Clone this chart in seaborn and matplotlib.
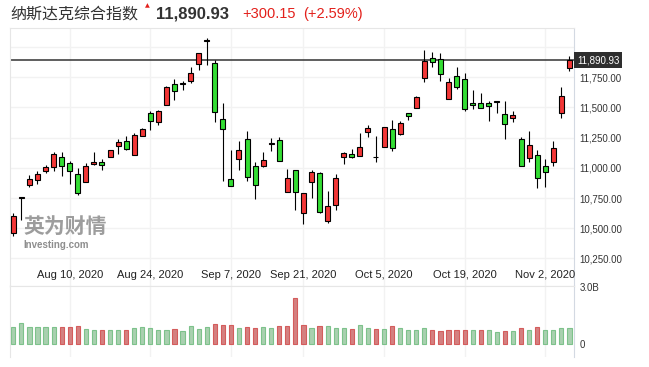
import matplotlib
matplotlib.use("Agg")
import matplotlib.pyplot as plt
import matplotlib.transforms as mtransforms
import seaborn as sns
import numpy as np
import pandas as pd

# daily candles, Jul 30 - Nov 5 2020 (Labor Day skipped)
dates = pd.bdate_range("2020-07-30", "2020-11-05")
dates = dates[dates != pd.Timestamp("2020-09-07")]

open_ = np.array([
    10462, 10749, 10862, 10903, 10977, 11004, 11086, 11043, 10952, 10886,
    11032, 11051, 11092, 11180, 11224, 11108, 11265, 11454, 11380, 11517,
    11695, 11698, 11722, 11859, 12054, 11865, 11404, 10911, 11075, 11240,
    11018, 11018, 11196, 11232, 10804, 10985, 10623, 10886, 10960, 10557,
    10689, 11092, 11117, 11100, 11298, 11092, 11174, 11322, 11281, 11454,
    11495, 11742, 11906, 11898, 11569, 11764, 11739, 11536, 11536, 11536,
    11547, 11446, 11415, 11243, 11078, 11108, 11018, 11051, 11454, 11827])
high = np.array([
    10626, 10755, 10938, 10971, 11021, 11133, 11133, 11054, 11001, 11043,
    11133, 11070, 11152, 11240, 11267, 11289, 11333, 11473, 11481, 11679,
    11733, 11720, 11835, 11947, 12079, 11892, 11539, 11144, 11226, 11308,
    11045, 11128, 11251, 11256, 10988, 10985, 10796, 10985, 10966, 10812,
    10952, 11133, 11160, 11292, 11358, 11262, 11339, 11399, 11391, 11454,
    11591, 11975, 11961, 11947, 11747, 11832, 11783, 11643, 11621, 11550,
    11552, 11555, 11473, 11256, 11303, 11144, 11075, 11226, 11668, 11928])
low = np.array([
    10434, 10571, 10842, 10867, 10960, 10977, 10933, 10867, 10777, 10886,
    11026, 10982, 11092, 11114, 11147, 11108, 11265, 11311, 11352, 11517,
    11563, 11646, 11706, 11810, 11851, 11380, 10892, 10853, 10982, 10892,
    10744, 11004, 11138, 11059, 10804, 10653, 10538, 10752, 10629, 10541,
    10653, 11032, 11084, 11100, 11256, 11048, 11174, 11138, 11273, 11393,
    11495, 11714, 11832, 11722, 11569, 11657, 11468, 11487, 11495, 11391,
    11454, 11240, 11382, 11015, 11051, 10837, 10845, 11018, 11413, 11802])
close_ = np.array([
    10599, 10755, 10911, 10952, 11010, 11117, 11018, 10977, 10790, 11018,
    11051, 11026, 11144, 11215, 11155, 11273, 11322, 11388, 11473, 11668,
    11635, 11703, 11783, 11947, 12060, 11462, 11322, 10853, 11149, 10927,
    10862, 11067, 11202, 11059, 10919, 10804, 10788, 10969, 10637, 10681,
    10919, 11125, 11092, 11174, 11330, 11086, 11339, 11166, 11372, 11429,
    11585, 11884, 11876, 11777, 11714, 11673, 11487, 11520, 11495, 11514,
    11552, 11366, 11437, 11015, 11191, 10919, 10969, 11166, 11594, 11890.93])
# volume in billions
volume = np.array([
    0.88, 1.11, 0.88, 0.88, 0.88, 0.88, 0.88, 0.88, 0.94, 0.78,
    0.73, 0.73, 0.73, 0.73, 0.73, 0.83, 0.88, 0.83, 0.73, 0.73,
    0.78, 0.68, 0.94, 0.78, 0.88, 1.06, 0.99, 0.99, 0.83, 0.88,
    0.83, 0.88, 0.83, 0.94, 0.94, 2.39, 0.99, 0.83, 0.94, 0.94,
    0.85, 0.85, 0.80, 0.99, 0.85, 0.80, 0.80, 0.94, 0.85, 0.75,
    0.75, 0.85, 0.75, 0.69, 0.75, 0.75, 0.75, 0.75, 0.75, 0.75,
    0.64, 0.69, 0.69, 0.85, 0.75, 0.90, 0.75, 0.75, 0.85, 0.85])

last_price = 11890.93
change_txt = "+300.15"
change_pct = "(+2.59%)"
title = "纳斯达克综合指数"

tick_dates = ["2020-08-10", "2020-08-24", "2020-09-07", "2020-09-21",
              "2020-10-05", "2020-10-19", "2020-11-02"]
tick_labels = ["Aug 10, 2020", "Aug 24, 2020", "Sep 7, 2020", "Sep 21, 2020",
               "Oct 5, 2020", "Oct 19, 2020", "Nov 2, 2020"]
price_ticks = [10250, 10500, 10750, 11000, 11250, 11500, 11750, 12000]
price_labels = ["10,250.00", "10,500.00", "10,750.00", "11,000.00",
                "11,250.00", "11,500.00", "11,750.00", ""]
vol_ticks = [0, 3.0]
vol_labels = ["0", "3.0B"]

RED = "#f23636"
GREEN = "#33dd33"
VGREEN = "#a2d6ac"
VRED = "#e27272"
GRID = "#f2f2f2"

sns.set_style("white")
plt.rcParams["font.family"] = ["Liberation Sans", "Noto Sans CJK SC", "DejaVu Sans"]

fig = plt.figure(figsize=(6.49, 3.67), dpi=100)
ax = fig.add_axes([10 / 649, 81 / 367, 564 / 649, 258 / 367])
axv = fig.add_axes([10 / 649, 10 / 367, 564 / 649, 71 / 367])

idx = np.arange(len(close_))
tick_pos = dates.searchsorted(pd.to_datetime(tick_dates))

# candles: red = up, green = down
up = close_ >= open_
ax.vlines(idx, low, high, color="black", lw=0.8, zorder=2)
ax.bar(idx, np.maximum(np.abs(close_ - open_), 3), bottom=np.minimum(open_, close_),
       width=0.62, color=np.where(up, RED, GREEN), edgecolor="black",
       linewidth=0.8, zorder=3)
ax.axhline(last_price, color="#333333", lw=1.1, zorder=1)

ax.set_xlim(-0.41, 69.57)
ax.set_ylim(10022, 12158)
ax.set_xticks(tick_pos)
ax.set_xticklabels([])
ax.set_yticks(price_ticks)
ax.set_yticklabels(price_labels)
ax.yaxis.tick_right()
ax.tick_params(axis="both", length=0, labelsize=7, labelcolor="#333333", pad=4)
ax.grid(True, color=GRID, lw=1)
for s in ["left", "top", "bottom"]:
    ax.spines[s].set_color("#e6e6e6")
ax.spines["right"].set_color("#d3d9e2")

trans = mtransforms.blended_transform_factory(ax.transData, ax.transAxes)
for p, lab in zip(tick_pos, tick_labels):
    ax.text(p, 0.043, lab, transform=trans, ha="center", va="center",
            fontsize=8, color="#222222")

# last price flag on the right
ax.text(1.005, last_price, f"{last_price:,.2f}",
        transform=mtransforms.blended_transform_factory(ax.transAxes, ax.transData),
        ha="left", va="center", fontsize=7, color="white",
        bbox=dict(boxstyle="square,pad=0.3", fc="#2e2e2e", ec="none"), clip_on=False)

# watermark
ax.text(0.023, 0.268, "英为财情", transform=ax.transAxes, ha="left", va="top",
        fontsize=15, fontweight="bold", color="#8c8c8c", alpha=0.85)
ax.text(0.023, 0.178, "Investing.com", transform=ax.transAxes, ha="left", va="top",
        fontsize=7, fontweight="bold", color="#7a7a7a", alpha=0.85)

# volume, coloured by close vs previous close
prev = np.r_[close_[0] - 1, close_[:-1]]
vol_df = pd.DataFrame({"i": idx, "vol": volume,
                       "dir": np.where(close_ >= prev, "up", "down")})
sns.barplot(data=vol_df, x="i", y="vol", hue="dir",
            palette={"up": VGREEN, "down": VRED}, dodge=False, width=0.52,
            errorbar=None, legend=False, linewidth=0.8, ax=axv)
for bar in axv.patches:
    fc = bar.get_facecolor()
    bar.set_edgecolor("#7dc28b" if fc[1] > fc[0] else "#d45c5c")

axv.set_xlim(-0.41, 69.57)
axv.set_ylim(-0.68, 3.04)
axv.set_xticks(tick_pos)
axv.set_xticklabels([])
axv.set_xlabel("")
axv.set_ylabel("")
axv.set_yticks(vol_ticks)
axv.set_yticklabels(vol_labels)
axv.yaxis.tick_right()
axv.tick_params(axis="both", length=0, labelsize=7, labelcolor="#333333", pad=4)
axv.grid(True, axis="x", color=GRID, lw=1)
for s in ["left", "top", "bottom"]:
    axv.spines[s].set_color("#e6e6e6")
axv.spines["bottom"].set_visible(False)
axv.spines["right"].set_color("#d3d9e2")

# header
fig.text(10 / 649, 1 - 14 / 367, title, fontsize=11.5, color="#333333",
         va="center", ha="left", family=["Noto Sans CJK SC", "DejaVu Sans"])
fig.text(147 / 649, 1 - 6 / 367, "▲", fontsize=4.5, color="#e3201b",
         va="center", ha="center", family=["DejaVu Sans"])
fig.text(156 / 649, 1 - 14 / 367, f"{last_price:,.2f}", fontsize=12,
         fontweight="bold", color="#333333", va="center", ha="left")
fig.text(242 / 649, 1 - 14 / 367, change_txt, fontsize=10.5,
         color="#e3201b", va="center", ha="left")
fig.text(303 / 649, 1 - 14 / 367, change_pct, fontsize=10.5,
         color="#e3201b", va="center", ha="left")

fig.savefig("out.png", dpi=100)
